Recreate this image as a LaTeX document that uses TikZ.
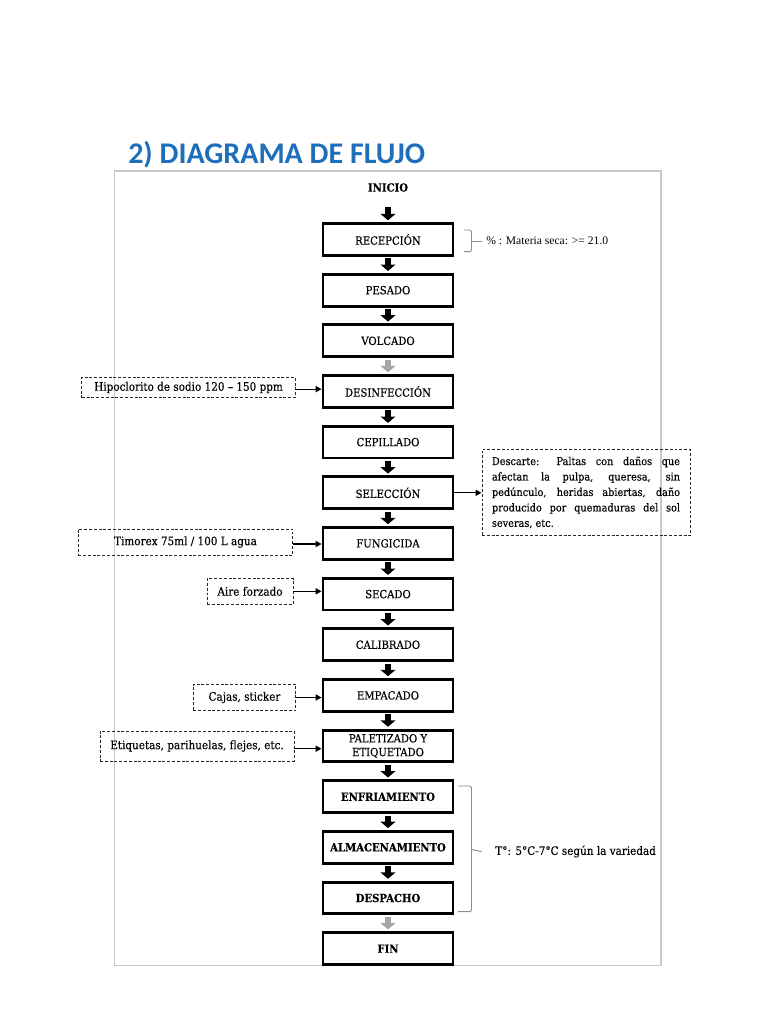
\documentclass[tikz,border=0pt]{standalone}
\usepackage{fontspec}
\setmainfont{DejaVu Serif Condensed}[FakeBold=0.25]
\newfontfamily\titlefont{Carlito}
\newfontfamily\timesfont{Liberation Serif}
\usetikzlibrary{arrows.meta,calc}
\definecolor{titleblue}{RGB}{30,110,185}
\definecolor{framegray}{RGB}{200,200,200}
\definecolor{arrgray}{RGB}{165,165,165}
\definecolor{bracegray}{RGB}{140,140,140}
\newcommand\boxfont{\fontsize{8.4}{10}\selectfont}
\newcommand\notefont{\fontsize{8.7}{10}\selectfont}
\begin{document}
\begin{tikzpicture}[x=0.75pt,y=-0.75pt,
  proc/.style={draw=black, line width=2.2pt,
    minimum width=97.5pt, minimum height=23.8pt, inner sep=1pt, outer sep=1.1pt,
    align=center, font=\boxfont},
  procb/.style={proc, font=\boxfont\bfseries},
  note/.style={draw=black!85, line width=0.7pt, dash pattern=on 2.2pt off 1.4pt,
    inner sep=0pt, align=center, font=\notefont},
  blockarrow/.style={line width=4.5pt, -{Triangle[width=11pt,length=4.8pt]},
    shorten <=1.2pt, shorten >=1.4pt},
  grayarrow/.style={blockarrow, draw=arrgray, fill=arrgray},
  notearrow/.style={line width=0.8pt, -{Triangle[width=4.6pt,length=4.4pt]}},
  bracestyle/.style={draw=bracegray, line width=0.7pt, rounded corners=1.6pt}
]
\useasboundingbox (0,0) rectangle (768,1024);

% title
\node[anchor=base west, inner sep=0pt, text=titleblue,
  font=\titlefont\fontsize{22.5}{26}\selectfont\bfseries] (title) at (128,163) {2) DIAGRAMA DE FLUJO};

% frame
\draw[framegray, line width=1.3pt] (114.5,171) rectangle (661,965.5);

% start
\node[font=\boxfont\bfseries, minimum height=27pt, inner sep=0pt] (inicio) at (388,187.5) {INICIO};

% process boxes
\node[proc] (recep)  at (388,239.5) {RECEPCIÓN};
\node[proc] (pesado) at (388,290.2) {PESADO};
\node[proc] (volc)   at (388,340.8) {VOLCADO};
\node[proc] (desinf) at (388,391.5) {DESINFECCIÓN};
\node[proc] (cepil)  at (388,442.1) {CEPILLADO};
\node[proc] (selec)  at (388,492.8) {SELECCIÓN};
\node[proc] (fung)   at (388,543.4) {FUNGICIDA};
\node[proc] (secado) at (388,594.1) {SECADO};
\node[proc] (calib)  at (388,644.7) {CALIBRADO};
\node[proc] (empac)  at (388,695.4) {EMPACADO};
\node[proc] (palet)  at (388,746.0) {PALETIZADO Y\\[0.3pt]ETIQUETADO};
\node[procb] (enfri) at (388,796.7) {ENFRIAMIENTO};
\node[procb] (almac) at (388,847.3) {ALMACENAMIENTO};
\node[procb] (desp)  at (388,898.0) {DESPACHO};
\node[procb] (fin)   at (388,948.6) {FIN};

% flow arrows
\draw[blockarrow] (inicio.south) -- (recep.north);
\draw[blockarrow] (recep.south) -- (pesado.north);
\draw[blockarrow] (pesado.south) -- (volc.north);
\draw[grayarrow] (volc.south) -- (desinf.north);
\draw[blockarrow] (desinf.south) -- (cepil.north);
\draw[blockarrow] (cepil.south) -- (selec.north);
\draw[blockarrow] (selec.south) -- (fung.north);
\draw[blockarrow] (fung.south) -- (secado.north);
\draw[blockarrow] (secado.south) -- (calib.north);
\draw[blockarrow] (calib.south) -- (empac.north);
\draw[blockarrow] (empac.south) -- (palet.north);
\draw[blockarrow] (palet.south) -- (enfri.north);
\draw[blockarrow] (enfri.south) -- (almac.north);
\draw[blockarrow] (almac.south) -- (desp.north);
\draw[grayarrow] (desp.south) -- (fin.north);

% left notes
\node[note, minimum width=160pt, minimum height=15.5pt] (hipo) at (188.5,387.5) {Hipoclorito de sodio 120 – 150 ppm};
\node[note, minimum width=161pt, minimum height=19.5pt] (timo) at (185.5,542) {Timorex 75ml / 100 L agua};
\node[note, minimum width=64.5pt, minimum height=19pt] (aire) at (250,591.3) {Aire forzado};
\node[note, minimum width=77pt, minimum height=20pt] (cajas) at (244.5,697.5) {Cajas, sticker};
\node[note, minimum width=145.5pt, minimum height=22.5pt] (etiq) at (197,746) {Etiquetas, parihuelas, flejes, etc.};

\draw[notearrow] ([yshift=-1.2pt]hipo.east) -- ([yshift=-1.2pt]hipo.east -| desinf.west);
\draw[notearrow] ([yshift=-1.5pt]timo.east) -- ([yshift=-1.5pt]timo.east -| fung.west);
\draw[notearrow] (aire.east) -- (aire.east -| secado.west);
\draw[notearrow] (cajas.east) -- (cajas.east -| empac.west);
\draw[notearrow] ([yshift=-2pt]etiq.east) -- ([yshift=-2pt]etiq.east -| palet.west);

% right note
\node[note, text width=141pt, inner xsep=7.5pt, inner ysep=5pt, align=justify,
  font=\fontsize{8.1}{11.6}\selectfont, minimum height=65pt] (desc) at (586,492.5)
  {\hyphenpenalty=10000 Descarte: Paltas con daños que\linebreak afectan la pulpa, queresa, sin\linebreak pedúnculo, heridas abiertas, daño\linebreak producido por quemaduras del sol\linebreak severas, etc.};
\draw[notearrow] (selec.east) -- (selec.east -| desc.west);

% brace for reception
\draw[bracestyle] (464,230) -- (471.5,230) -- (471.5,251.7) -- (464,251.7);
\coordinate (b1) at (471.5,241);
\node[anchor=west, inner sep=0pt, font=\timesfont\fontsize{8.7}{10}\selectfont] (mseca) at (486,241) {\% : Materia seca: >= 21.0};
\draw[draw=bracegray, line width=0.7pt] (b1) -- ([xshift=-3pt]mseca.west);

% brace for cold chain
\draw[bracestyle] (458,786) -- (471.5,786) -- (471.5,911.7) -- (458,911.7);
\coordinate (b2) at (471.5,849.5);
\node[anchor=west, inner sep=0pt, font=\notefont] (temp) at (495,851.5) {T°: 5°C-7°C según la variedad};
\draw[draw=bracegray, line width=0.7pt] (b2) -- ([xshift=-10pt]temp.west);
\end{tikzpicture}
\end{document}
